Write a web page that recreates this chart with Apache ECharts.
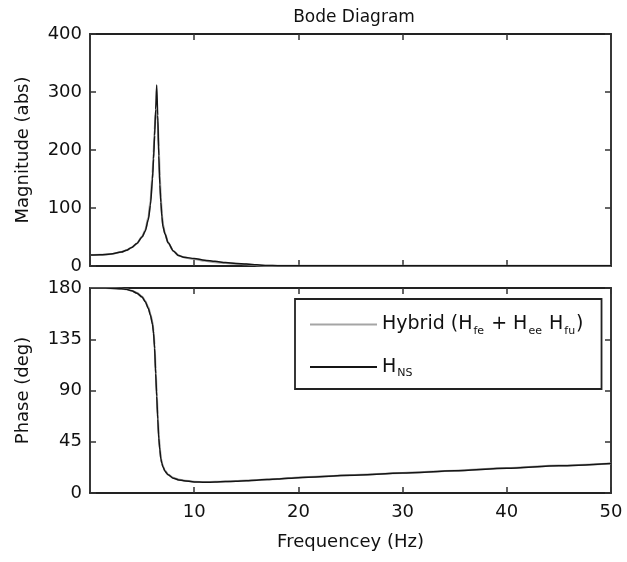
<!DOCTYPE html>
<html><head><meta charset="utf-8">
<script src="https://cdn.jsdelivr.net/npm/echarts@6/dist/echarts.min.js"></script>
<style>html,body{margin:0;padding:0;background:#fff}#c{width:627px;height:562px}</style>
</head><body><div id="c"></div>
<script>
const freq = [0,1,2,3,3.5,4,4.5,5,5.3,5.6,5.8,6.0,6.1,6.2,6.3,6.4,6.5,6.6,6.7,6.8,6.9,7.0,7.2,7.5,8,8.5,9,10,11,12,13,14,15,16,17,18,20,25,30,35,40,45,50];
const magNS = [19,19.5,20.5,24,27,32,39,50,60,80,105,150,185,225,270,312,260,190,140,110,85,68,55,40,26,18,15,13,10,8,6,4.5,3.5,2,1,0.5,0.4,0.3,0.3,0.3,0.3,0.3,0.3];
const magHybrid = [19,19.5,20.5,24,27,32,39,51,62,84,112,160,195,235,262,270,250,205,155,118,90,72,56,40,26,18,15,12,9,6.5,5,4,3,1.5,0.5,0.4,0.4,0.3,0.3,0.3,0.3,0.3,0.3];
const phaseNS = [180,180,179.8,179.3,178.8,177.5,175.5,172,168,162,156,148,140,127,105,85,65,48,38,30,26,23,19,16,13,11.5,10.8,9.7,9.4,9.6,10,10.4,10.8,11.3,11.8,12.3,13.5,15.5,17.5,19.5,21.8,24,26];
const phaseHybrid = [180,180,179.8,179.3,178.8,177.6,175.8,172.5,168.5,163,157,150,142,130,109,89,69,51,40,31,26.5,23.5,19.5,16.3,13.3,11.8,11,9.9,9.6,9.8,10.1,10.5,10.9,11.4,11.9,12.4,13.6,15.6,17.6,19.6,21.9,24.1,26];
const magTicks = [0,100,200,300,400];
const phaseTicks = [0,45,90,135,180];
const freqTicks = [0,10,20,30,40,50];
const legendNames = ['Hybrid', 'HNS'];
const titleText = 'Bode Diagram';

const FONT = 'DejaVu Sans, sans-serif';
const TXT = '#111';
const pair = (xs, ys) => xs.map((x, i) => [x, ys[i]]);

function xAx(grid, pos, show, name) {
  return {
    type: 'value', gridIndex: grid, position: pos, min: freqTicks[0], max: freqTicks[freqTicks.length-1], interval: 10,
    axisLine: {show: true, onZero: false, lineStyle: {color: '#222', width: 1.8}},
    axisTick: {show: true, inside: true, length: 6, lineStyle: {color: '#333', width: 1.5}},
    axisLabel: {show: show, showMinLabel: false, color: TXT, fontSize: 18, fontFamily: FONT, margin: 10},
    splitLine: {show: false},
    name: name || '', nameLocation: 'middle', nameGap: 40,
    nameTextStyle: {color: TXT, fontSize: 18, fontFamily: FONT}
  };
}
function yAx(grid, pos, show, ticks, iv, name) {
  return {
    type: 'value', gridIndex: grid, position: pos, min: ticks[0], max: ticks[ticks.length-1], interval: iv,
    axisLine: {show: true, onZero: false, lineStyle: {color: '#222', width: 1.8}},
    axisTick: {show: true, inside: true, length: 6, lineStyle: {color: '#333', width: 1.5}},
    axisLabel: {show: show, color: TXT, fontSize: 18, fontFamily: FONT, margin: 8},
    splitLine: {show: false},
    name: name || '', nameLocation: 'middle', nameGap: 58,
    nameTextStyle: {color: TXT, fontSize: 18, fontFamily: FONT}
  };
}

const chart = echarts.init(document.getElementById('c'), null, {renderer: 'canvas'});
chart.setOption({
  backgroundColor: '#fff',
  animation: false,
  title: {text: titleText, left: 349, top: 4, textAlign: 'center',
    textStyle: {fontSize: 17, fontWeight: 'normal', color: TXT, fontFamily: FONT}},
  grid: [
    {left: 90, right: 16, top: 34, height: 232},
    {left: 90, right: 16, top: 288, height: 205}
  ],
  xAxis: [xAx(0, 'bottom', false), xAx(0, 'top', false), xAx(1, 'bottom', true, 'Frequencey (Hz)'), xAx(1, 'top', false)],
  yAxis: [yAx(0, 'left', true, magTicks, 100, 'Magnitude (abs)'), yAx(0, 'right', false, magTicks, 100),
          yAx(1, 'left', true, phaseTicks, 45, 'Phase (deg)'), yAx(1, 'right', false, phaseTicks, 45)],
  legend: {
    data: legendNames.map(n => ({name: n, icon: 'rect'})), orient: 'vertical', left: 295, top: 299,
    itemWidth: 67, itemHeight: 2, itemGap: 21,
    borderColor: '#222', borderWidth: 1.8, backgroundColor: '#fff', borderRadius: 0,
    padding: [16, 18, 10, 15],
    formatter: function (n) {
      if (n === 'Hybrid') return '{a|Hybrid (H}{s|fe}{a| + H}{s|ee}{a| H}{s|fu}{a|)}';
      return '{a|H}{s|NS}';
    },
    textStyle: {
      rich: {
        a: {fontSize: 19, fontFamily: FONT, color: TXT, lineHeight: 24, verticalAlign: 'middle'},
        s: {fontSize: 11, fontFamily: FONT, color: TXT, lineHeight: 12, verticalAlign: 'bottom', padding: [0, 1, 0, 1]}
      }
    }
  },
  series: [
    {name: 'Hybrid', type: 'line', xAxisIndex: 0, yAxisIndex: 0, data: pair(freq, magHybrid), symbol: 'none', smooth: 0.25, smoothMonotone: 'x',
      lineStyle: {color: '#a5a5a5', width: 2}, itemStyle: {color: '#a5a5a5'}},
    {name: 'HNS', type: 'line', xAxisIndex: 0, yAxisIndex: 0, data: pair(freq, magNS), symbol: 'none', smooth: 0.25, smoothMonotone: 'x',
      lineStyle: {color: '#151515', width: 1.5}, itemStyle: {color: '#151515'}},
    {name: 'Hybrid', type: 'line', xAxisIndex: 2, yAxisIndex: 2, data: pair(freq, phaseHybrid), symbol: 'none', smooth: 0.25, smoothMonotone: 'x',
      lineStyle: {color: '#a5a5a5', width: 2}, itemStyle: {color: '#a5a5a5'}},
    {name: 'HNS', type: 'line', xAxisIndex: 2, yAxisIndex: 2, data: pair(freq, phaseNS), symbol: 'none', smooth: 0.25, smoothMonotone: 'x',
      lineStyle: {color: '#151515', width: 1.5}, itemStyle: {color: '#151515'}}
  ]
});
</script></body></html>
